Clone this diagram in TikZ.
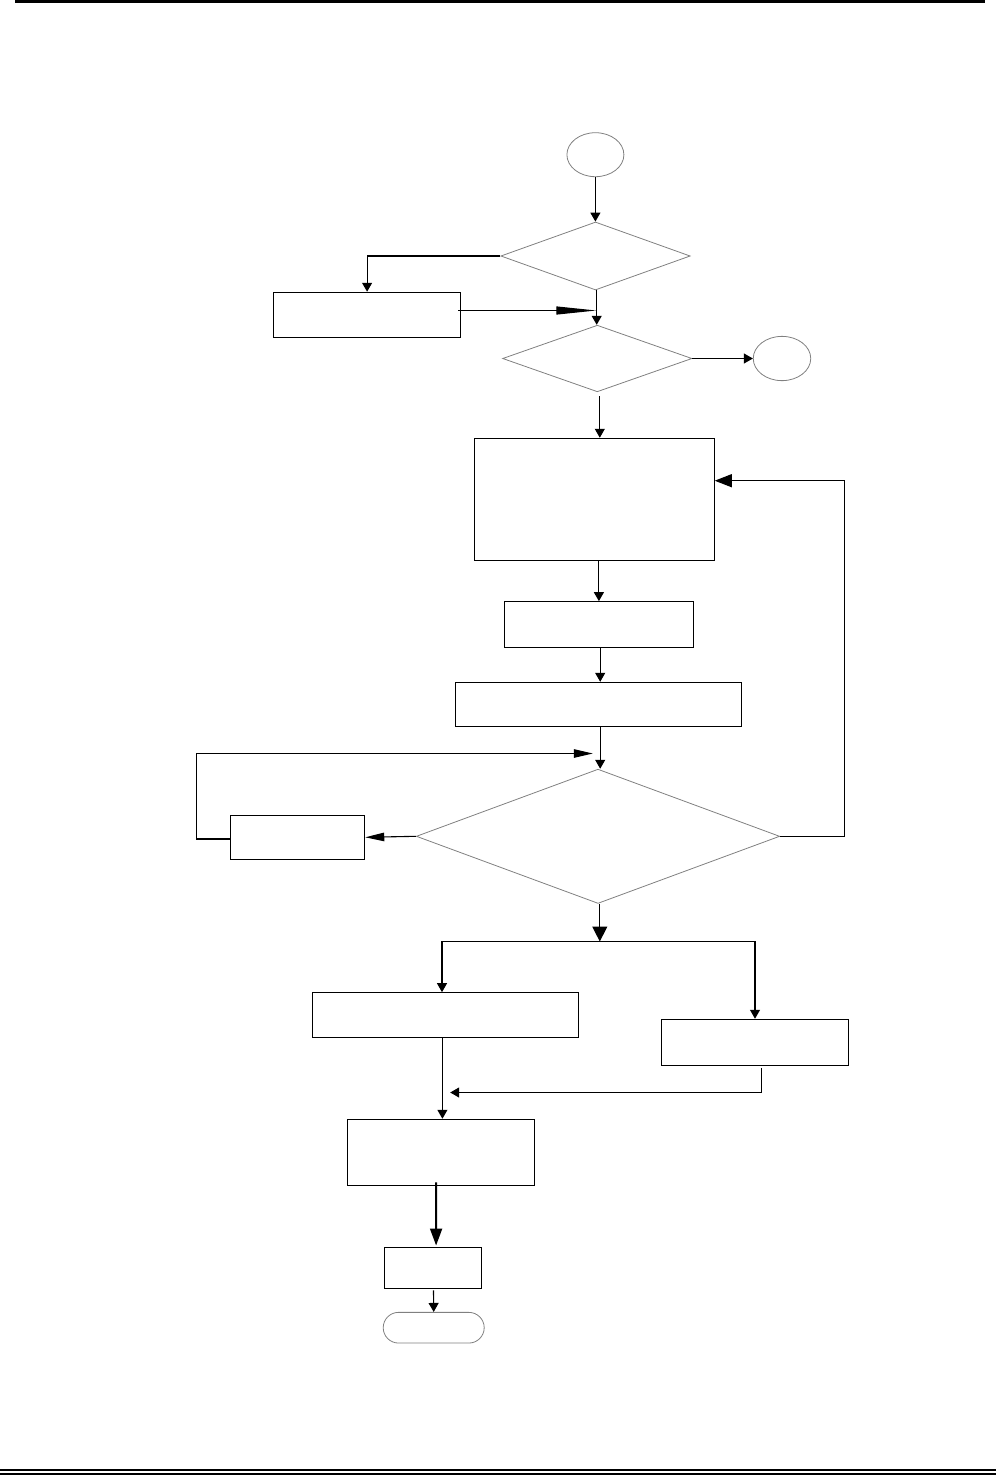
\documentclass[tikz,border=0pt]{standalone}
\usetikzlibrary{arrows.meta,shapes.geometric,shapes.misc,calc}
\begin{document}
\begin{tikzpicture}[x=1pt,y=-1pt,
  boxs/.style={draw=black,line width=1.1pt,inner sep=0pt,rectangle},
  dia/.style={draw=black!50,line width=0.8pt,inner sep=0pt,diamond},
  oval/.style={draw=black!50,line width=0.8pt,inner sep=0pt,ellipse},
  arr/.style={draw=black,line width=1.1pt,-{Triangle[length=9pt,width=10pt]}},
  arrlong/.style={draw=black,line width=1.1pt,-{Triangle[length=40pt,width=8pt]}},
  arrmid/.style={draw=black,line width=1.1pt,-{Triangle[length=19pt,width=8.5pt]}},
  arrside/.style={draw=black,line width=1.1pt,-{Triangle[length=17pt,width=13pt]}},
  arrbig/.style={draw=black,line width=1.3pt,-{Triangle[length=15pt,width=15pt]}},
  arrthick/.style={draw=black,line width=2pt,-{Triangle[length=17pt,width=12pt]}},
  plain/.style={draw=black,line width=1.1pt}]
\useasboundingbox (0,0) rectangle (996,1476);
% header / footer rules
\draw[line width=3pt] (15,1.5) -- (985,1.5);
\draw[line width=1.6pt] (0,1469.8) -- (996,1469.8);
\draw[line width=2pt] (0,1474) -- (996,1474);
% nodes
\node[oval,minimum width=57pt,minimum height=44pt] (start) at (595.4,154.7) {};
\node[dia,minimum width=189.4pt,minimum height=68pt] (d1) at (595.5,256) {};
\node[boxs,minimum width=186.8pt,minimum height=45pt] (rA) at (367.1,314.8) {};
\node[dia,minimum width=189.4pt,minimum height=66.6pt] (d2) at (597.3,358.5) {};
\node[oval,minimum width=57.5pt,minimum height=44.3pt] (stop) at (782,358.5) {};
\node[boxs,minimum width=239.8pt,minimum height=122pt] (big) at (594.3,499.3) {};
\node[boxs,minimum width=189pt,minimum height=45.6pt] (r2) at (598.9,624.5) {};
\node[boxs,minimum width=286.2pt,minimum height=43.7pt] (r3) at (598.5,704.2) {};
\node[dia,minimum width=363.4pt,minimum height=134.3pt] (d3) at (598,836.3) {};
\node[boxs,minimum width=134.4pt,minimum height=44pt] (r4) at (297.5,837.3) {};
\node[boxs,minimum width=266.4pt,minimum height=44.6pt] (r5) at (445.4,1015) {};
\node[boxs,minimum width=187.2pt,minimum height=46pt] (r6) at (755,1042.3) {};
\node[boxs,minimum width=187.2pt,minimum height=66pt] (r7) at (440.9,1152.3) {};
\node[boxs,minimum width=97.3pt,minimum height=41.3pt] (r8) at (433,1267.7) {};
\node[draw=black!50,line width=0.8pt,inner sep=0pt,rounded rectangle,minimum width=101pt,minimum height=30.7pt] (term) at (433.7,1327.7) {};
% free ends
\coordinate (j1) at (596.3,310.5);
\coordinate (loopend) at (592.8,753.5);
\coordinate (split) at (599.8,941.5);
\coordinate (merge) at (450.2,1092.5);
% connectors
\draw[arr] (start.south) -- (start.south |- d1.north);
\draw[arr] (d1.west) -| (rA.north);
\draw[arrlong] ($(rA.east)+(-3,-4.3)$) -- (j1);
\draw[arr] (d1.south) ++(1.2,0) -- ($(d1.south |- d2.north)+(1.2,0)$);
\draw[arr] (d2.east) -- (stop.west);
\draw[arr] ($(d2.south)+(2.5,4)$) -- ($(big.north)+(5.5,0)$);
\draw[arr] (r2.north |- big.south) -- (r2.north);
\draw[arr] ($(r2.south)+(1.3,0)$) -- ($(r3.north)+(1.7,0)$);
\draw[arr] ($(r3.south)+(1.7,0)$) -- ($(d3.north)+(2.2,0)$);
\draw[arrmid] (d3.west) -- (r4.east);
\draw[arrmid] ($(r4.west)+(0,1.7)$) -- ++(-33.4,0) |- (loopend);
\draw[arrside] (d3.east) -- ++(64.3,0) |- ($(big.east)+(0,-18.6)$);
\draw[arrbig] ($(d3.south)+(1.8,0)$) -- (split);
\draw[arr] (split) -| ($(r5.north)+(-3.4,0)$);
\draw[arr] (split) -| (r6.north);
\draw[arr] ($(r5.south)+(-3,0)$) -- ($(r7.north)+(1.5,0)$);
\draw[arr] ($(r6.south)+(6.3,2)$) |- (merge);
\draw[arrthick] ($(r7.south)+(-4.8,-3.6)$) -- ($(r8.north)+(3.1,-1)$);
\draw[arr] ($(r8.south)+(0.5,1.5)$) -- (term.north);
\end{tikzpicture}
\end{document}
